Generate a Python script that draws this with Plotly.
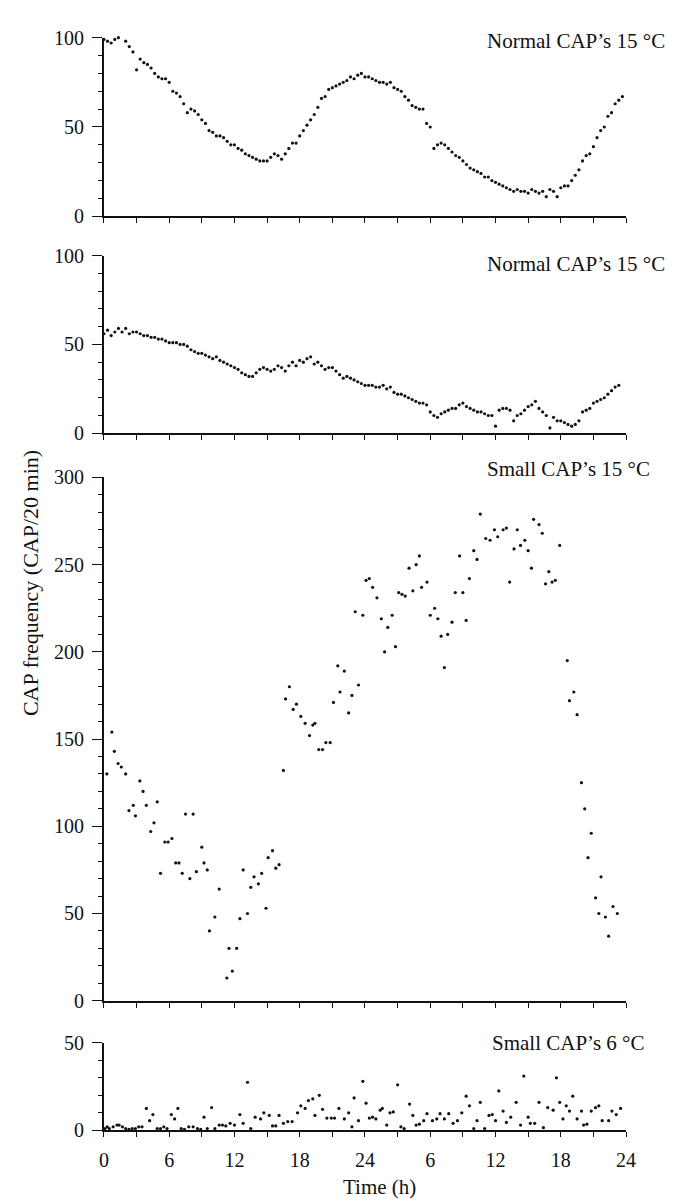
import plotly.graph_objects as go

# ---------------- data ----------------
SAMPLE_STEP_H = 1 / 3  # one count every 20 min

# Panel 1: Normal CAP's 15 °C (CAP / 20 min), sampled every 20 min from t = 0 h
normal_cap_15_a = [
    99, 98, 97, 99, 100, 101, 98, 95, 92,
    82, 88, 86, 85, 83, 80, 78, 77, 77,
    75, 70, 69, 67, 63, 58, 60, 59, 57,
    54, 52, 48, 47, 45, 45, 44, 42, 40,
    40, 38, 37, 35, 34, 33, 32, 31, 31,
    31, 33, 35, 34, 32, 35, 38, 41, 41,
    45, 48, 51, 54, 57, 61, 66, 67, 71,
    72, 73, 74, 75, 76, 78, 77, 79, 80,
    78, 78, 77, 76, 75, 75, 74, 75, 72,
    71, 70, 67, 65, 62, 61, 60, 60, 52,
    50, 38, 40, 41, 40, 38, 36, 34, 33,
    31, 29, 27, 26, 25, 24, 22, 22, 20,
    19, 18, 17, 16, 15, 14, 15, 14, 14,
    13, 15, 14, 13, 14, 11, 15, 14, 11,
    16, 17, 17, 20, 23, 26, 31, 34, 35,
    39, 44, 48, 50, 56, 58, 63, 65, 67,
]

# Panel 2: Normal CAP's 15 °C (second preparation)
normal_cap_15_b = [
    56, 58, 55, 57, 59, 57, 59, 56, 57,
    57, 56, 55, 55, 54, 54, 53, 53, 52,
    51, 51, 51, 50, 50, 49, 47, 46, 45,
    45, 44, 43, 42, 43, 41, 40, 39, 38,
    37, 36, 34, 33, 32, 32, 34, 36, 37,
    36, 35, 36, 38, 37, 35, 38, 40, 38,
    41, 40, 42, 43, 39, 40, 38, 36, 37,
    37, 35, 33, 31, 32, 31, 30, 29, 28,
    27, 27, 27, 26, 26, 27, 25, 26, 23,
    22, 22, 21, 20, 19, 18, 17, 17, 16,
    12, 10, 9, 11, 12, 13, 14, 14, 16,
    17, 15, 14, 13, 12, 12, 11, 10, 10,
    4, 13, 14, 14, 13, 7, 10, 11, 13,
    15, 16, 18, 14, 12, 10, 3, 9, 7,
    7, 6, 5, 4, 5, 7, 12, 13, 14,
    17, 18, 19, 20, 22, 24, 26, 27,
]

# Panel 3: Small CAP's 15 °C
small_cap_15_hours = [
    0.27, 0.73, 0.96, 1.3, 1.6, 2.0, 2.3, 2.7, 2.9, 3.3, 3.6, 3.9, 4.3, 4.6, 4.9,
    5.2, 5.6, 5.9, 6.25, 6.6, 6.9, 7.2, 7.5, 7.9, 8.2, 8.5, 9.0, 9.2, 9.5, 9.7,
    10.2, 10.6, 11.3, 11.5, 11.8, 12.2, 12.5, 12.8, 13.2, 13.5, 13.8, 14.2, 14.5,
    14.9, 15.1, 15.5, 15.8, 16.1, 16.5, 16.7, 17.05, 17.4, 17.7, 18.1, 18.5, 18.9,
    19.2, 19.4, 19.75, 20.1, 20.4, 20.8, 21.1, 21.5, 21.7, 22.1, 22.5, 22.8, 23.1,
    23.4, 23.8, 24.1, 24.4, 24.7, 25.1, 25.5, 25.8, 26.1, 26.5, 26.8, 27.1, 27.4,
    27.7, 28.05, 28.4, 28.7, 29.0, 29.2, 29.7, 30.0, 30.4, 30.7, 31.0, 31.3, 31.6,
    32.0, 32.3, 32.7, 33.0, 33.3, 33.6, 34.0, 34.3, 34.6, 35.1, 35.5, 35.9, 36.2,
    36.7, 37.0, 37.3, 37.7, 38.0, 38.3, 38.7, 39.0, 39.3, 39.5, 40.0, 40.3, 40.6,
    40.9, 41.2, 41.5, 41.9, 42.6, 42.8, 43.2, 43.5, 43.9, 44.2, 44.5, 44.8, 45.2,
    45.5, 45.7, 46.1, 46.4, 46.8, 47.2,
]
small_cap_15_counts = [
    130, 154, 143, 136, 134, 130, 109, 112, 106, 126, 120, 112, 97, 102, 114,
    73, 91, 91, 93, 79, 79, 73, 107, 70, 107, 74, 88, 79, 75, 40,
    48, 64, 13, 30, 17, 30, 47, 75, 50, 65, 71, 67, 73,
    53, 82, 86, 76, 78, 132, 173, 180, 167, 170, 163, 159, 152,
    158, 159, 144, 144, 148, 148, 171, 192, 177, 189, 165, 175, 223,
    181, 221, 241, 242, 237, 231, 219, 200, 214, 221, 203, 234, 233,
    232, 248, 235, 250, 255, 237, 240, 221, 225, 219, 209, 191, 210,
    217, 234, 255, 234, 218, 242, 258, 253, 279, 265, 264, 270, 266,
    270, 271, 240, 259, 270, 261, 264, 258, 248, 276, 273, 268, 239,
    246, 240, 241, 261, 195, 172, 177, 164, 125, 110, 82, 96, 59,
    50, 71, 48, 37, 54, 50,
]

# Panel 4: Small CAP's 6 °C
small_cap_6_hours = [
    0.1, 0.3, 0.5, 0.85, 1.2, 1.4, 1.7, 2.0, 2.3, 2.6, 2.9, 3.2, 3.5, 3.9, 4.2,
    4.5, 4.9, 5.2, 5.5, 5.8, 6.2, 6.5, 6.8, 7.1, 7.4, 7.8, 8.2, 8.6, 8.9, 9.2,
    9.5, 9.9, 10.2, 10.6, 10.9, 11.2, 11.6, 12.0, 12.5, 12.8, 13.2, 13.5, 13.9,
    14.4, 14.7, 15.2, 15.5, 15.8, 16.1, 16.5, 16.9, 17.3, 17.8, 18.1, 18.5, 18.8,
    19.2, 19.4, 19.8, 20.1, 20.5, 20.9, 21.2, 21.6, 22.1, 22.5, 22.8, 23.0, 23.4,
    23.8, 24.1, 24.4, 24.7, 25.0, 25.4, 25.6, 26.0, 26.3, 26.6, 27.0, 27.3, 27.6,
    28.1, 28.4, 28.7, 29.0, 29.4, 29.7, 30.2, 30.6, 30.9, 31.3, 31.7, 32.1, 32.5,
    32.9, 33.3, 33.6, 34.0, 34.3, 34.6, 35.0, 35.4, 35.7, 36.0, 36.3, 36.7, 37.0,
    37.4, 37.9, 38.3, 38.6, 39.0, 39.2, 39.6, 40.0, 40.4, 40.8, 41.3, 41.6, 41.9,
    42.2, 42.5, 42.8, 43.1, 43.5, 43.9, 44.1, 44.4, 44.8, 45.2, 45.5, 45.8, 46.4,
    46.7, 47.1, 47.5,
]
small_cap_6_counts = [
    1, 2, 1, 2, 3, 3, 2, 1, 0.5, 1, 1, 2, 2, 12.5, 5.5,
    9, 1, 1, 2, 1, 9, 6.5, 12.5, 1, 0.5, 2, 2, 1, 0.5, 7.5,
    1, 13, 1, 3, 3, 2.5, 4, 3, 9, 4, 27.5, 1, 7.5,
    6.5, 10, 8.5, 2.5, 2.5, 8.5, 4, 5, 5, 10, 14, 12.5, 17,
    18, 8.5, 20, 12, 7, 7, 7, 12.5, 6.5, 10, 2, 18.5, 5.5,
    28, 15.5, 7, 7.5, 6.5, 11.5, 12.5, 3, 10, 10.5, 26, 2, 1,
    15, 8.5, 3, 3.5, 5.5, 9.5, 5.5, 6.5, 9.5, 6.5, 9.5, 4, 5.5,
    10, 19.5, 14, 1, 5.5, 16, 1, 8.5, 9, 5.5, 22.5, 11, 4.5,
    7.5, 16, 3, 31, 7.5, 4, 4, 16, 1.5, 13, 11.5, 30, 16,
    6.5, 14, 11, 19.5, 6.5, 11, 3, 3.5, 11, 13, 14, 5.5, 5.5,
    11, 9, 12.5,
]

panel_titles = [
    "Normal CAP’s 15 °C",
    "Normal CAP’s 15 °C",
    "Small CAP’s 15 °C",
    "Small CAP’s 6 °C",
]
y_max = [100, 100, 300, 50]
x_tick_hours = list(range(0, 49, 3))
x_tick_text = [str(h if h <= 24 else h - 24) if h % 6 == 0 else "" for h in x_tick_hours]
day_marks = [0, 24, 48]
x_title = "Time (h)"
y_title = "CAP frequency (CAP/20 min)"

# ---------------- layout geometry (pixels) ----------------
W, H = 674, 1202
X_LEFT, X_RIGHT = 93, 627
panel_px = [(19, 201), (241, 422), (467, 1000), (1043, 1132)]   # (top, bottom)
title_px = [(669, 22), (669, 250), (654, 458), (648, 1043)]      # (right edge, centre y)

FONT = "Liberation Serif, Times New Roman, serif"
INK = "#111111"

series = [
    ([i * SAMPLE_STEP_H for i in range(len(normal_cap_15_a))], normal_cap_15_a),
    ([i * SAMPLE_STEP_H for i in range(len(normal_cap_15_b))], normal_cap_15_b),
    (small_cap_15_hours, small_cap_15_counts),
    (small_cap_6_hours, small_cap_6_counts),
]

fig = go.Figure()
layout = dict(
    width=W, height=H,
    margin=dict(l=0, r=0, t=0, b=0),
    paper_bgcolor="white", plot_bgcolor="white",
    showlegend=False,
    font=dict(family=FONT, color=INK),
)
shapes, annotations = [], []

for i, ((xs, ys), (top, bot)) in enumerate(zip(series, panel_px)):
    n = i + 1
    xname = "x" if n == 1 else f"x{n}"
    yname = "y" if n == 1 else f"y{n}"
    fig.add_trace(go.Scatter(
        x=xs, y=ys, mode="markers", xaxis=xname, yaxis=yname,
        marker=dict(size=3.2, color=INK), cliponaxis=False, hoverinfo="skip",
    ))
    last = n == 4
    layout["xaxis" if n == 1 else f"xaxis{n}"] = dict(
        domain=[X_LEFT / W, X_RIGHT / W], anchor=yname, range=[0, 48],
        showgrid=False, zeroline=False, showline=True, linecolor=INK,
        linewidth=2 if last else 1.7,
        ticks="outside", ticklen=5, tickwidth=1.4, tickcolor=INK,
        tickmode="array", tickvals=x_tick_hours, ticktext=x_tick_text,
        showticklabels=last, ticklabelstandoff=6,
        tickfont=dict(family=FONT, size=20, color=INK),
    )
    layout["yaxis" if n == 1 else f"yaxis{n}"] = dict(
        domain=[1 - bot / H, 1 - top / H], anchor=xname, range=[0, y_max[i]],
        showgrid=False, zeroline=False, showline=True, linecolor=INK, linewidth=1.7,
        ticks="outside", ticklen=10, tickwidth=1.4, tickcolor=INK,
        tickmode="linear", tick0=0, dtick=50,
        minor=dict(ticks="outside", ticklen=4, tickwidth=1.2, tickcolor=INK, dtick=10, tick0=0),
        ticklabelstandoff=4,
        tickfont=dict(family=FONT, size=20, color=INK),
    )
    for d in day_marks:
        shapes.append(dict(
            type="line", xref=xname, yref=yname, x0=d, x1=d,
            ysizemode="pixel", yanchor=0, y0=0, y1=-10,
            line=dict(color=INK, width=1.6),
        ))
    rx, cy = title_px[i]
    annotations.append(dict(
        text=panel_titles[i], xref="paper", yref="paper", x=rx / W, y=1 - cy / H,
        xanchor="right", yanchor="middle", showarrow=False,
        font=dict(family=FONT, size=21, color=INK),
    ))

annotations.append(dict(
    text=y_title, xref="paper", yref="paper", x=18 / W, y=1 - 575 / H,
    xanchor="center", yanchor="middle", textangle=-90, showarrow=False,
    font=dict(family=FONT, size=22, color=INK),
))
annotations.append(dict(
    text=x_title, xref="paper", yref="paper", x=375 / W, y=1 - 1190 / H,
    xanchor="center", yanchor="middle", showarrow=False,
    font=dict(family=FONT, size=21, color=INK),
))

layout["shapes"] = shapes
layout["annotations"] = annotations
fig.update_layout(**layout)
fig.write_html("out.html")
